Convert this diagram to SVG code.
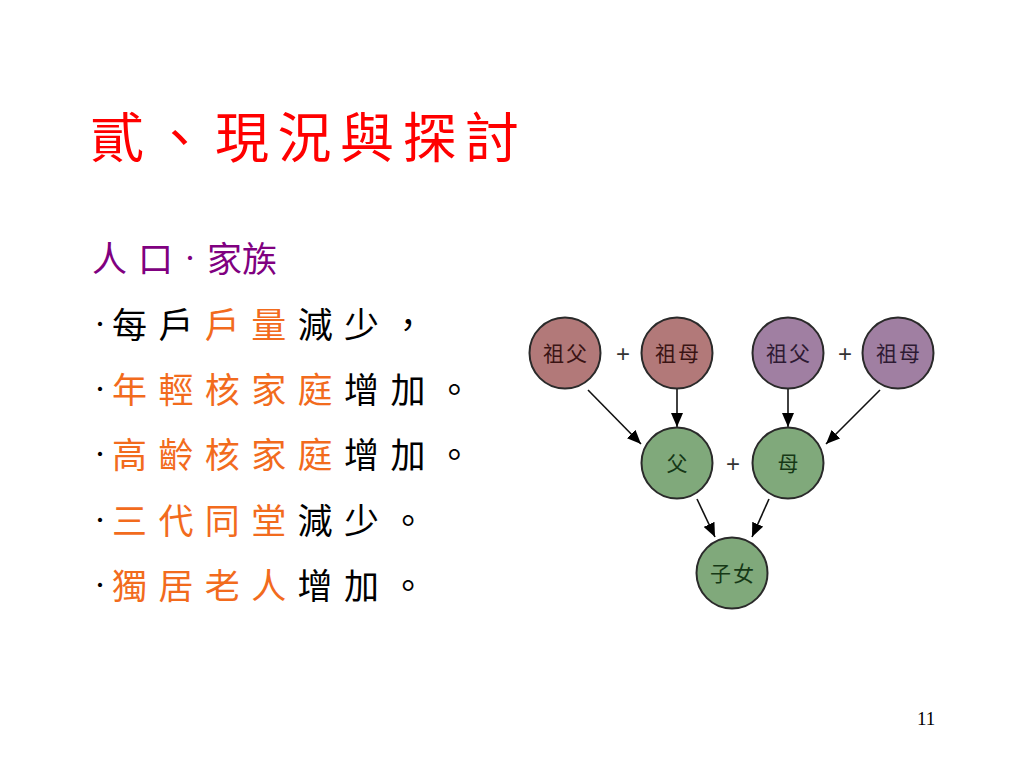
<svg xmlns="http://www.w3.org/2000/svg" width="1024" height="768" viewBox="0 0 1024 768">
<style>
.cjk{font-family:"Noto Sans CJK TC","Noto Sans CJK SC",sans-serif}
.title{font-size:54px;fill:#FF0000;letter-spacing:8.5px}
.sub{font-size:35px;fill:#800080}
.line{font-size:35px;fill:#000000;letter-spacing:11.4px}
.dot{font-family:"Liberation Serif",serif;font-size:36px}
.or{fill:#F26B1D}
.node circle{stroke:#2a2a2a;stroke-width:2}
.red circle{fill:#B27979}
.pur circle{fill:#A07FA2}
.grn circle{fill:#80A97B}
.lbl{font-size:21px;text-anchor:middle;letter-spacing:2px}
.red text{fill:#3a1414}
.pur text{fill:#2e1a33}
.grn text{fill:#163816}
.plus{font-family:"Liberation Sans",sans-serif;font-size:24px;fill:#333;text-anchor:middle}
.edge{stroke:#111;stroke-width:1.6;fill:none;marker-end:url(#ah)}
</style>
<defs>
<marker id="ah" viewBox="0 0 14 12" refX="14" refY="6" markerWidth="14" markerHeight="12" markerUnits="userSpaceOnUse" orient="auto">
<path d="M0,0 L14,6 L0,12 Z" fill="#000"/>
</marker>
</defs>
<rect width="1024" height="768" fill="#ffffff"/>
<text class="cjk title" x="90" y="158">貳、現況與探討</text>
<text class="cjk sub" y="272"><tspan x="92">人</tspan><tspan x="138">口</tspan></text>
<text class="dot" x="184" y="270" fill="#800080">·</text>
<text class="cjk sub" x="207" y="272">家族</text>
<g fill="#000">
<text class="dot" x="94" y="336">·</text>
<text class="dot" x="94" y="401">·</text>
<text class="dot" x="94" y="466">·</text>
<text class="dot" x="94" y="532">·</text>
<text class="dot" x="94" y="597">·</text>
</g>
<g class="cjk line">
<text x="112" y="338">每戶<tspan class="or">戶量</tspan>減少，</text>
<text x="112" y="403"><tspan class="or">年輕核家庭</tspan>增加。</text>
<text x="112" y="468"><tspan class="or">高齡核家庭</tspan>增加。</text>
<text x="112" y="534"><tspan class="or">三代同堂</tspan>減少。</text>
<text x="112" y="599"><tspan class="or">獨居老人</tspan>增加。</text>
</g>
<g id="connectors">
<line class="edge" x1="588" y1="390" x2="641" y2="444"/>
<line class="edge" x1="677" y1="389" x2="677" y2="427"/>
<line class="edge" x1="788" y1="389" x2="788" y2="427"/>
<line class="edge" x1="880" y1="390" x2="826" y2="444"/>
<line class="edge" x1="697" y1="499" x2="715" y2="537"/>
<line class="edge" x1="769" y1="499" x2="752" y2="537"/>
</g>
<g id="n-gf1" class="node red"><circle cx="565" cy="353" r="35.5"/><text class="cjk lbl" x="566" y="361">祖父</text></g>
<g id="n-gm1" class="node red"><circle cx="677" cy="353" r="35.5"/><text class="cjk lbl" x="678" y="361">祖母</text></g>
<g id="n-gf2" class="node pur"><circle cx="788" cy="353" r="35.5"/><text class="cjk lbl" x="789" y="361">祖父</text></g>
<g id="n-gm2" class="node pur"><circle cx="898" cy="353" r="35.5"/><text class="cjk lbl" x="899" y="361">祖母</text></g>
<g id="n-f" class="node grn"><circle cx="677" cy="463" r="35.5"/><text class="cjk lbl" x="678" y="471">父</text></g>
<g id="n-m" class="node grn"><circle cx="788" cy="463" r="35.5"/><text class="cjk lbl" x="789" y="471">母</text></g>
<g id="n-c" class="node grn"><circle cx="732" cy="573" r="35.5"/><text class="cjk lbl" x="733" y="581">子女</text></g>
<text class="plus" x="623" y="362">+</text>
<text class="plus" x="845" y="362">+</text>
<text class="plus" x="733" y="472">+</text>
<text x="917" y="725" font-family="Liberation Serif, serif" font-size="19" fill="#000">11</text>
</svg>
